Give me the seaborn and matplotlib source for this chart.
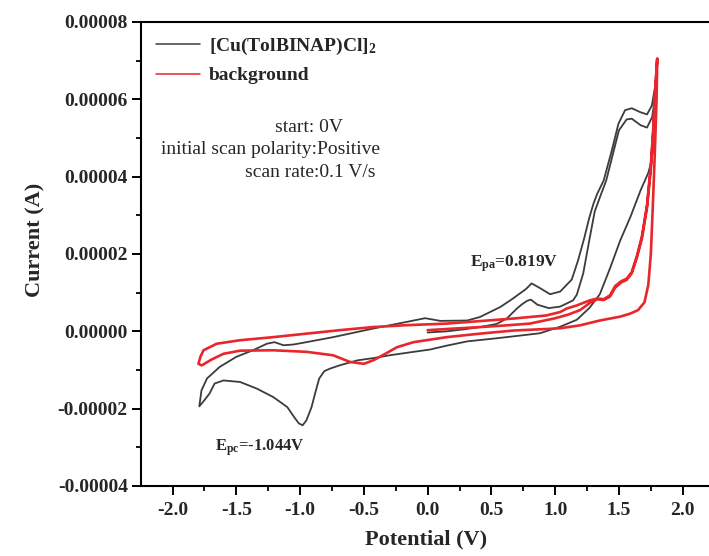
import numpy as np
import pandas as pd
import matplotlib
matplotlib.use('Agg')
import matplotlib.pyplot as plt
import seaborn as sns
from matplotlib.ticker import FixedLocator, FormatStrFormatter, MultipleLocator

# ---------------- data (potential in V, current in microampere) ----------------
# [Cu(TolBINAP)Cl]2 : scan 1 (0 V -> +1.8 V)
cu_s1_V = [0.00, 0.15, 0.28, 0.41, 0.54, 0.62, 0.70, 0.74, 0.78, 0.81, 0.86, 0.95, 1.04, 1.09, 1.14,
           1.17, 1.22, 1.27, 1.31, 1.36, 1.40, 1.45, 1.50, 1.56, 1.60, 1.67, 1.72, 1.76, 1.785, 1.80]
cu_s1_I = [-0.3, 0.0, 0.5, 1.1, 1.9, 3.3, 5.9, 7.0, 7.9, 8.2, 6.9, 6.0, 6.4, 7.2, 8.0,
           9.5, 15.0, 24.0, 31.0, 35.5, 39.0, 45.5, 52.0, 54.8, 55.0, 53.3, 52.7, 55.4, 61.0, 67.0]
# scan 2 (+1.8 V -> -1.8 V)
cu_s2_V = [1.785, 1.77, 1.75, 1.73, 1.67, 1.59, 1.51, 1.43, 1.35, 1.27, 1.17, 1.04, 0.88, 0.75, 0.54,
           0.31, 0.15, 0.02, -0.13, -0.30, -0.42, -0.55, -0.69, -0.77, -0.81, -0.85, -0.88, -0.91,
           -0.95, -0.98, -1.01, -1.05, -1.10, -1.21, -1.34, -1.47, -1.60, -1.67, -1.71, -1.75, -1.79]
cu_s2_I = [55.0, 47.0, 43.5, 41.0, 36.5, 29.6, 23.5, 16.3, 9.6, 6.1, 3.0, 1.2, -0.5, -1.0, -1.8,
           -2.6, -3.7, -4.7, -5.4, -6.2, -6.9, -7.5, -8.8, -9.7, -10.3, -12.2, -15.8, -19.6,
           -23.0, -24.3, -23.8, -22.0, -19.6, -17.0, -14.8, -13.1, -12.7, -13.5, -16.1, -17.8, -19.4]
# scan 3 (-1.8 V -> +1.8 V)
cu_s3_V = [-1.773, -1.73, -1.63, -1.50, -1.37, -1.26, -1.20, -1.13, -1.05, -0.95, -0.74, -0.43, -0.17,
           -0.02, 0.10, 0.31, 0.41, 0.49, 0.57, 0.67, 0.74, 0.77, 0.815, 0.88, 0.96, 1.04, 1.13, 1.18,
           1.227, 1.266, 1.30, 1.33, 1.38, 1.444, 1.496, 1.548, 1.60, 1.666, 1.72, 1.758, 1.785, 1.80]
cu_s3_I = [-15.3, -12.2, -9.2, -6.6, -4.9, -3.2, -2.8, -3.6, -3.4, -2.8, -1.5, 0.7, 2.4,
           3.4, 2.7, 2.8, 3.7, 5.0, 6.3, 8.5, 10.2, 10.9, 12.4, 11.2, 9.6, 10.3, 13.4, 18.4,
           24.0, 29.2, 33.0, 35.6, 39.0, 46.8, 53.7, 57.2, 57.7, 56.7, 56.1, 58.4, 63.6, 69.0]

# background
bg_s1_V = [0.00, 0.20, 0.41, 0.60, 0.80, 0.99, 1.10, 1.195, 1.27, 1.33, 1.38, 1.43, 1.47, 1.52, 1.56,
           1.60, 1.64, 1.68, 1.72, 1.75, 1.77, 1.785, 1.80]
bg_s1_I = [0.3, 0.7, 1.1, 1.5, 2.0, 3.3, 4.3, 5.5, 7.3, 8.3, 8.1, 9.0, 11.3, 12.7, 13.3,
           15.0, 19.0, 24.0, 32.0, 42.0, 52.0, 62.0, 70.5]
bg_s2_V = [1.795, 1.78, 1.765, 1.75, 1.73, 1.70, 1.65, 1.59, 1.51, 1.35, 1.195, 1.04, 0.93, 0.67, 0.41,
           0.15, -0.11, -0.24, -0.32, -0.42, -0.50, -0.61, -0.74, -0.95, -1.21, -1.47, -1.60, -1.70,
           -1.77, -1.797]
bg_s2_I = [60.0, 45.0, 32.0, 20.0, 12.0, 7.5, 5.5, 4.6, 3.8, 2.8, 1.55, 0.8, 0.6, 0.2, -0.6,
           -1.5, -2.8, -4.1, -5.6, -7.4, -8.4, -7.9, -6.2, -5.3, -4.9, -5.0, -5.8, -7.4,
           -8.8, -8.4]
bg_s3_V = [-1.78, -1.757, -1.653, -1.47, -1.21, -0.95, -0.69, -0.43, -0.16, 0.15, 0.67, 0.93, 1.04,
           1.09, 1.17, 1.27, 1.33, 1.38, 1.43, 1.47, 1.52, 1.56, 1.60, 1.64, 1.68, 1.72, 1.75, 1.77,
           1.785, 1.80]
bg_s3_I = [-6.5, -4.9, -3.2, -2.3, -1.5, -0.6, 0.3, 1.1, 1.6, 2.0, 3.3, 4.1, 5.0,
           5.9, 6.7, 8.0, 8.5, 8.3, 9.3, 11.7, 13.0, 13.6, 15.3, 19.4, 24.6, 32.6, 43.0, 53.0,
           63.0, 70.5]

x_ticks = [-2.0, -1.5, -1.0, -0.5, 0.0, 0.5, 1.0, 1.5, 2.0]
y_ticks = [-0.00004, -0.00002, 0.0, 0.00002, 0.00004, 0.00006, 0.00008]

cu_label = '[Cu(TolBINAP)Cl]$_2$'
bg_label = 'background'

# ---------------- build frames ----------------
cu_df = pd.DataFrame({
    'V': cu_s1_V + cu_s2_V + cu_s3_V,
    'I': np.array(cu_s1_I + cu_s2_I + cu_s3_I) * 1e-6,
})
bg_df = pd.DataFrame({
    'V': bg_s1_V + bg_s2_V + bg_s3_V,
    'I': np.array(bg_s1_I + bg_s2_I + bg_s3_I) * 1e-6,
})

# ---------------- style ----------------
sns.set_style('ticks')
plt.rcParams['font.family'] = ['Liberation Serif', 'DejaVu Serif']
plt.rcParams['font.weight'] = 'bold'
plt.rcParams['mathtext.fontset'] = 'custom'
plt.rcParams['mathtext.rm'] = 'Liberation Serif:bold'
plt.rcParams['mathtext.bf'] = 'Liberation Serif:bold'
plt.rcParams['mathtext.it'] = 'Liberation Serif:italic:bold'
plt.rcParams['mathtext.default'] = 'bf'

fig = plt.figure(figsize=(7.09, 5.56), dpi=100)
ax = fig.add_axes([141 / 709, 70 / 556, 580 / 709, 464 / 556])

sns.lineplot(data=cu_df, x='V', y='I', sort=False, estimator=None, color='#3c3c3c',
             linewidth=1.3, label=cu_label, ax=ax)
sns.lineplot(data=bg_df, x='V', y='I', sort=False, estimator=None, color='#e8262b',
             linewidth=1.9, label=bg_label, ax=ax)

ax.set_xlim(-2.247, 2.3)
ax.set_ylim(-0.00004, 0.00008)
ax.xaxis.set_major_locator(FixedLocator(x_ticks))
ax.xaxis.set_major_formatter(FormatStrFormatter('%.1f'))
ax.xaxis.set_minor_locator(MultipleLocator(0.25))
ax.yaxis.set_major_locator(FixedLocator(y_ticks))
ax.yaxis.set_major_formatter(FormatStrFormatter('%.5f'))
ax.yaxis.set_minor_locator(MultipleLocator(0.00001))

ax.tick_params(which='major', direction='out', length=6.5, width=1.4, labelsize=14, color='black')
ax.tick_params(which='minor', direction='out', length=3.5, width=1.3, color='black')
ax.tick_params(axis='x', which='major', pad=5)
ax.tick_params(axis='y', which='major', pad=3)
ax.tick_params(top=False, right=False, which='both')
for s in ax.spines.values():
    s.set_linewidth(1.5)
    s.set_color('black')

ax.set_xlabel('Potential (V)', fontsize=16, fontweight='bold')
ax.set_ylabel('Current (A)', fontsize=16, fontweight='bold')
ax.xaxis.set_label_coords(0.492, -0.094)
ax.yaxis.set_label_coords(-0.164, 0.530)

leg = ax.legend(loc='upper left', bbox_to_anchor=(0.026, 0.97), frameon=False,
                prop={'family': 'Liberation Serif', 'weight': 'bold', 'size': 14},
                handlelength=2.25, handletextpad=0.45, labelspacing=0.5,
                borderaxespad=0, borderpad=0)
for h in leg.get_lines():
    h.set_linewidth(1.1)

ax.text(-1.197, 52.8e-6, 'start: 0V', fontsize=14, fontweight='normal', va='center', ha='left')
ax.text(-2.09, 47.1e-6, 'initial scan polarity:Positive', fontsize=14, fontweight='normal',
        va='center', ha='left')
ax.text(-1.432, 41.1e-6, 'scan rate:0.1 V/s', fontsize=14, fontweight='normal', va='center', ha='left')

ax.text(0.333, 16.8e-6, 'E$_{\\mathbf{pa}}$=0.819V', fontsize=12.5, fontweight='bold',
        va='baseline', ha='left')
ax.text(-1.667, -30.8e-6, 'E$_{\\mathbf{pc}}$=-1.044V', fontsize=12, fontweight='bold',
        va='baseline', ha='left')

fig.savefig('out.png', dpi=100)
